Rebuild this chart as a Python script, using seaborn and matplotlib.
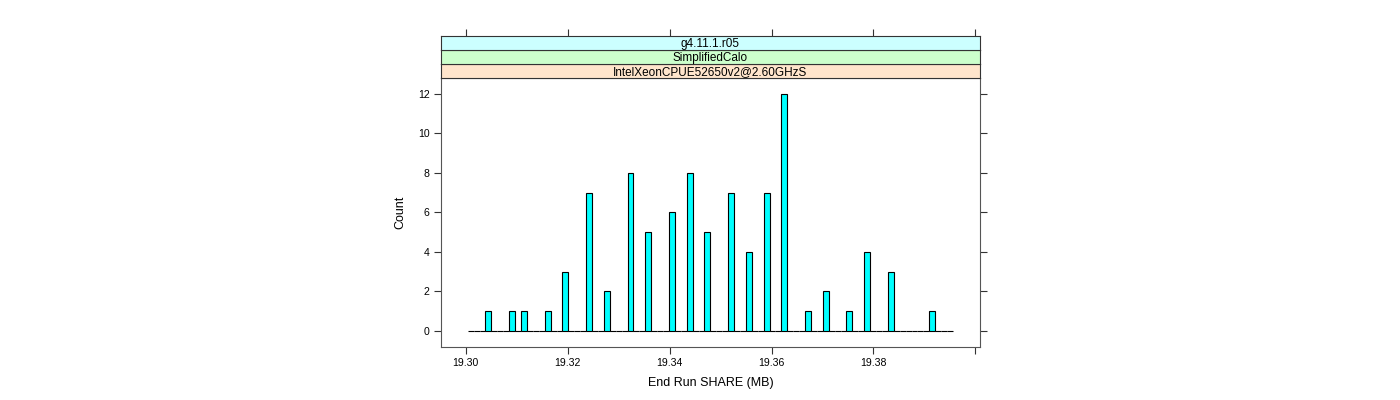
import numpy as np
import pandas as pd
import matplotlib
matplotlib.use("Agg")
from matplotlib import pyplot as plt
import seaborn as sns

# bar centers (MB) and their counts
share_mb = [19.3045, 19.3091, 19.3114, 19.3161, 19.3196, 19.3242, 19.3277,
            19.3323, 19.3358, 19.3405, 19.3439, 19.3474, 19.3521, 19.3556,
            19.3590, 19.3625, 19.3672, 19.3707, 19.3753, 19.3788, 19.3834,
            19.3916]
counts = [1, 1, 1, 1, 3, 7, 2, 8, 5, 6, 8, 5, 7, 4, 7, 12, 1, 2, 1, 4, 3, 1]
strip_labels = ["IntelXeonCPUE52650v2@2.60GHzS", "SimplifiedCalo", "g4.11.1.r05"]
strip_colors = ["#ffe5cc", "#ccffcc", "#ccffff"]
x_ticks = [19.30, 19.32, 19.34, 19.36, 19.38, 19.40]
x_ticklabels = ["19.30", "19.32", "19.34", "19.36", "19.38", ""]
y_ticks = [0, 2, 4, 6, 8, 10, 12]

df = pd.DataFrame({"share": share_mb, "n": counts})

sns.set_style("white")
plt.rcParams['font.family'] = ['Liberation Sans', 'DejaVu Sans']
plt.rcParams['text.color'] = 'black'
plt.rcParams['axes.labelcolor'] = 'black'
plt.rcParams['xtick.color'] = 'black'
plt.rcParams['ytick.color'] = 'black'

fig = plt.figure(figsize=(14, 4), dpi=100)
left, width = 0.3148, 0.3852
bottom, top = 0.1318, 0.8043
ax = fig.add_axes([left, bottom, width, top - bottom])

edges = list(np.linspace(19.3004, 19.3956, 83))
sns.histplot(data=df, x="share", weights="n", bins=edges, ax=ax,
             color="#00ffff", edgecolor="black", linewidth=0.8, alpha=1)

xlim = (19.2951, 19.4009)
ax.set_xlim(*xlim)
ax.set_ylim(-0.83, 12.78)
ax.set_xticks(x_ticks)
ax.set_xticklabels(x_ticklabels)
ax.set_yticks(y_ticks)
ax.tick_params(axis="both", direction="out", length=5, width=0.8,
               color="#333333", labelsize=7.6, pad=3)
ax.tick_params(axis="y", right=True, left=True)
ax.tick_params(axis="x", bottom=True, top=False)
for s in ax.spines.values():
    s.set_color("#555555")
    s.set_linewidth(0.8)
ax.set_xlabel("End Run SHARE (MB)", fontsize=9, labelpad=6)
ax.set_ylabel("Count", fontsize=9, labelpad=8)

# stacked lattice-style strips
strip_h = 0.0353
for i, (lab, col) in enumerate(zip(strip_labels, strip_colors)):
    sax = fig.add_axes([left, top + i * strip_h, width, strip_h])
    sax.set_facecolor(col)
    sax.set_xlim(*xlim)
    sax.set_yticks([])
    sax.set_xticks([])
    for s in sax.spines.values():
        s.set_color("#333333")
        s.set_linewidth(0.8)
    sax.text(0.5, 0.45, lab, ha="center", va="center", fontsize=8.5,
             transform=sax.transAxes)
    if i == len(strip_labels) - 1:
        sax.set_xticks(x_ticks)
        sax.tick_params(axis="x", top=True, bottom=False, labeltop=False,
                        labelbottom=False, direction="out", length=5,
                        width=0.8, color="#333333")

fig.savefig("out.png", dpi=100)
